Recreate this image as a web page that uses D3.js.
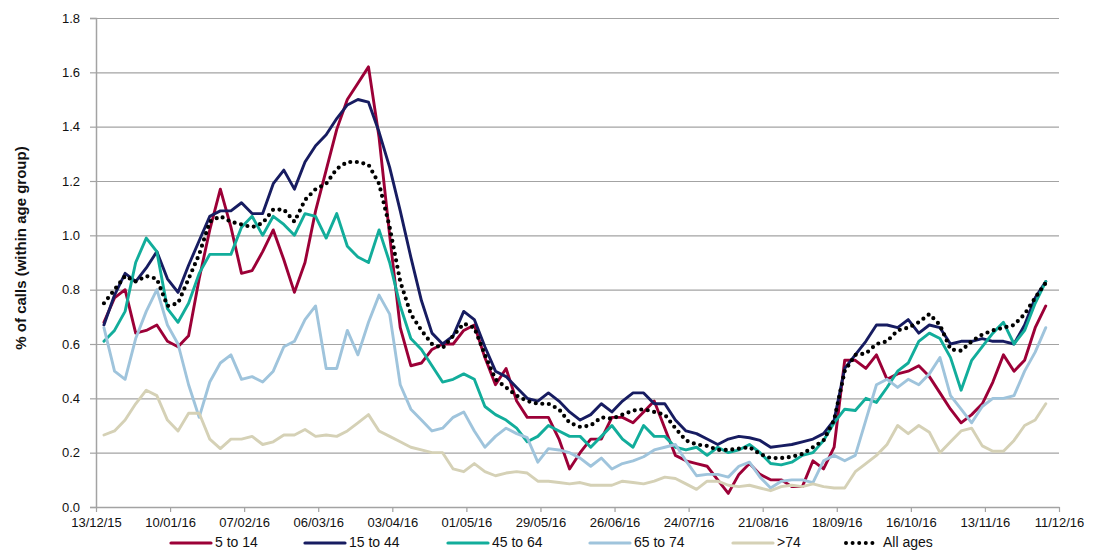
<!DOCTYPE html>
<html>
<head>
<meta charset="utf-8">
<script src="https://cdn.jsdelivr.net/npm/d3@7/dist/d3.min.js"></script>
<style>
  body { margin: 0; background: #fff; }
  svg { font-family: "Liberation Sans", Arial, sans-serif; }
</style>
</head>
<body>
<div id="chart"></div>
<script>
// readings are taken every 4 days, starting 16/12/15
const firstReading = "16/12/15";
const readingStep = 4;

const tickLabels = ["13/12/15", "10/01/16", "07/02/16", "06/03/16", "03/04/16", "01/05/16", "29/05/16",
    "26/06/16", "24/07/16", "21/08/16", "18/09/16", "16/10/16", "13/11/16", "11/12/16"];

const seriesNames = ["5 to 14", "15 to 44", "45 to 64", "65 to 74", ">74", "All ages"];
const seriesColors = ["#9c0037", "#171c61", "#12ad9b", "#9fc4dc", "#d5d1b6", "#000000"];

const age5to14 = [0.68, 0.77, 0.80, 0.64, 0.65, 0.67, 0.61, 0.59, 0.63, 0.84,
    1.02, 1.17, 1.03, 0.86, 0.87, 0.94, 1.02, 0.91, 0.79, 0.90,
    1.09, 1.24, 1.39, 1.50, 1.56, 1.62, 1.36, 1.00, 0.66, 0.52,
    0.53, 0.58, 0.60, 0.60, 0.65, 0.67, 0.55, 0.45, 0.51, 0.39,
    0.33, 0.33, 0.33, 0.25, 0.14, 0.20, 0.25, 0.25, 0.33, 0.33,
    0.31, 0.35, 0.39, 0.29, 0.19, 0.17, 0.16, 0.15, 0.10, 0.05,
    0.12, 0.16, 0.12, 0.10, 0.10, 0.075, 0.075, 0.17, 0.14, 0.22,
    0.54, 0.54, 0.51, 0.56, 0.47, 0.49, 0.50, 0.52, 0.48, 0.42,
    0.36, 0.31, 0.34, 0.38, 0.46, 0.56, 0.50, 0.54, 0.66, 0.74];

const age15to44 = [0.67, 0.78, 0.86, 0.83, 0.88, 0.94, 0.84, 0.79, 0.89, 0.98,
    1.07, 1.09, 1.09, 1.12, 1.08, 1.08, 1.19, 1.24, 1.17, 1.27,
    1.33, 1.37, 1.43, 1.48, 1.50, 1.49, 1.38, 1.25, 1.09, 0.92,
    0.76, 0.64, 0.60, 0.63, 0.72, 0.69, 0.59, 0.50, 0.48, 0.44,
    0.40, 0.39, 0.42, 0.39, 0.35, 0.32, 0.34, 0.38, 0.35, 0.39,
    0.42, 0.42, 0.38, 0.38, 0.32, 0.28, 0.27, 0.25, 0.23, 0.25,
    0.26, 0.255, 0.245, 0.22, 0.225, 0.23, 0.24, 0.25, 0.27, 0.32,
    0.51, 0.56, 0.61, 0.67, 0.67, 0.66, 0.69, 0.64, 0.67, 0.66,
    0.60, 0.61, 0.61, 0.62, 0.61, 0.61, 0.60, 0.67, 0.77, 0.83];

const age45to64 = [0.61, 0.65, 0.72, 0.90, 0.99, 0.94, 0.73, 0.68, 0.75, 0.86,
    0.93, 0.93, 0.93, 1.03, 1.07, 1.00, 1.07, 1.04, 1.00, 1.08,
    1.07, 0.99, 1.08, 0.96, 0.92, 0.90, 1.02, 0.90, 0.74, 0.62,
    0.58, 0.52, 0.46, 0.47, 0.49, 0.47, 0.37, 0.34, 0.32, 0.29,
    0.24, 0.26, 0.30, 0.28, 0.26, 0.26, 0.22, 0.26, 0.30, 0.25,
    0.22, 0.30, 0.26, 0.26, 0.22, 0.21, 0.22, 0.19, 0.22, 0.20,
    0.21, 0.23, 0.20, 0.16, 0.155, 0.165, 0.19, 0.20, 0.245, 0.31,
    0.36, 0.355, 0.40, 0.385, 0.44, 0.50, 0.53, 0.61, 0.64, 0.62,
    0.55, 0.43, 0.54, 0.59, 0.64, 0.68, 0.60, 0.65, 0.75, 0.83];

const age65to74 = [0.66, 0.50, 0.47, 0.62, 0.72, 0.80, 0.67, 0.60, 0.45, 0.33,
    0.46, 0.53, 0.56, 0.47, 0.48, 0.46, 0.50, 0.59, 0.61, 0.69,
    0.74, 0.51, 0.51, 0.65, 0.56, 0.68, 0.78, 0.71, 0.45, 0.36,
    0.32, 0.28, 0.29, 0.33, 0.35, 0.28, 0.22, 0.26, 0.29, 0.27,
    0.255, 0.165, 0.215, 0.21, 0.20, 0.18, 0.15, 0.18, 0.14, 0.16,
    0.17, 0.185, 0.21, 0.22, 0.23, 0.17, 0.115, 0.12, 0.12, 0.11,
    0.15, 0.165, 0.11, 0.07, 0.095, 0.10, 0.10, 0.09, 0.17, 0.19,
    0.17, 0.19, 0.32, 0.45, 0.47, 0.44, 0.47, 0.45, 0.49, 0.55,
    0.41, 0.36, 0.31, 0.37, 0.40, 0.40, 0.41, 0.50, 0.57, 0.66];

const age75plus = [0.265, 0.28, 0.32, 0.38, 0.43, 0.41, 0.32, 0.28, 0.345, 0.345,
    0.25, 0.215, 0.25, 0.25, 0.26, 0.23, 0.24, 0.265, 0.265, 0.285,
    0.26, 0.265, 0.26, 0.28, 0.31, 0.34, 0.28, 0.26, 0.24, 0.22,
    0.21, 0.20, 0.20, 0.14, 0.13, 0.16, 0.13, 0.115, 0.125, 0.13,
    0.125, 0.095, 0.095, 0.09, 0.085, 0.09, 0.08, 0.08, 0.08, 0.095,
    0.09, 0.085, 0.095, 0.11, 0.105, 0.085, 0.065, 0.095, 0.095, 0.08,
    0.075, 0.08, 0.07, 0.06, 0.075, 0.08, 0.075, 0.085, 0.075, 0.07,
    0.07, 0.13, 0.16, 0.19, 0.23, 0.30, 0.27, 0.30, 0.275, 0.20,
    0.24, 0.28, 0.29, 0.225, 0.205, 0.205, 0.245, 0.30, 0.32, 0.38];

const allAges = [0.75, 0.80, 0.85, 0.83, 0.85, 0.84, 0.74, 0.75, 0.84, 0.93,
    1.05, 1.07, 1.05, 1.04, 1.03, 1.045, 1.095, 1.095, 1.05, 1.13,
    1.17, 1.19, 1.245, 1.27, 1.27, 1.26, 1.19, 1.03, 0.83, 0.71,
    0.65, 0.60, 0.585, 0.63, 0.675, 0.66, 0.56, 0.47, 0.44, 0.41,
    0.39, 0.38, 0.38, 0.36, 0.31, 0.295, 0.30, 0.33, 0.325, 0.34,
    0.355, 0.36, 0.35, 0.34, 0.29, 0.245, 0.23, 0.225, 0.21, 0.21,
    0.215, 0.22, 0.195, 0.18, 0.18, 0.185, 0.195, 0.22, 0.245, 0.32,
    0.50, 0.56, 0.565, 0.60, 0.61, 0.65, 0.66, 0.68, 0.71, 0.67,
    0.58, 0.575, 0.61, 0.635, 0.65, 0.66, 0.67, 0.71, 0.77, 0.825];

const seriesValues = [age5to14, age15to44, age45to64, age65to74, age75plus, allAges];

// layout
const width = 1102, height = 551;
const margin = ({top: 18, right: 43, bottom: 44, left: 96});
const innerW = width - margin.left - margin.right,
    innerH = height - margin.top - margin.bottom;

const parseDate = d3.utcParse("%d/%m/%y");
const start = parseDate(firstReading);

const svg = d3.select("#chart").append("svg")
    .attr("width", width)
    .attr("height", height);

const g = svg.append("g")
    .attr("transform", "translate(" + margin.left + "," + margin.top + ")");

const ticks = tickLabels.map(parseDate);

const xScale = d3.scaleUtc()
    .domain([ticks[0], ticks[ticks.length - 1]])
    .range([0, innerW]);

const yScale = d3.scaleLinear()
    .domain([0, 1.8])
    .range([innerH, 0]);

// gridlines
g.append("g")
    .attr("class", "grid")
    .call(d3.axisLeft(yScale).tickValues(d3.range(1, 10).map(d => d * 0.2)).tickSize(-innerW).tickFormat(""))
    .call(s => s.select(".domain").remove())
    .call(s => s.selectAll("line").attr("stroke", "#a3a3a3").attr("stroke-width", 1.2));

const yAxis = d3.axisLeft(yScale)
    .tickValues(d3.range(0, 10).map(d => d * 0.2))
    .tickFormat(d3.format(".1f"))
    .tickSize(6)
    .tickPadding(10);

g.append("g")
    .attr("class", "axis y-axis")
    .call(yAxis)
    .call(s => s.select(".domain").attr("stroke", "#a3a3a3").attr("stroke-width", 1.5))
    .call(s => s.selectAll(".tick line").attr("stroke", "#a3a3a3").attr("stroke-width", 1.2))
    .call(s => s.selectAll("text").attr("font-size", 13).attr("fill", "#111")
        .style("font-family", "'Liberation Sans', Arial, sans-serif"));

const xAxis = d3.axisBottom(xScale)
    .tickValues(ticks)
    .tickFormat(d3.utcFormat("%d/%m/%y"))
    .tickSize(5)
    .tickSizeOuter(0)
    .tickPadding(6);

g.append("g")
    .attr("class", "axis x-axis")
    .attr("transform", `translate(0, ${innerH})`)
    .call(xAxis)
    .call(s => s.select(".domain").attr("stroke", "#a3a3a3").attr("stroke-width", 1.5))
    .call(s => s.selectAll(".tick line").attr("stroke", "#a3a3a3").attr("stroke-width", 1.2))
    .call(s => s.selectAll("text").attr("font-size", 13).attr("fill", "#111")
        .style("font-family", "'Liberation Sans', Arial, sans-serif"));

// y title
svg.append("text")
    .attr("transform", "translate(20, 248) rotate(-90)")
    .attr("text-anchor", "middle")
    .attr("dominant-baseline", "central")
    .attr("font-size", 15)
    .attr("font-weight", "bold")
    .attr("fill", "#111")
    .text("% of calls (within age group)");

// series
const line = d3.line()
    .x((d, i) => xScale(d3.utcDay.offset(start, i * readingStep)))
    .y(d => yScale(d));

seriesValues.forEach((vals, k) => {
    const dotted = k === seriesValues.length - 1;
    g.append("path")
        .datum(vals)
        .attr("fill", "none")
        .attr("stroke", seriesColors[k])
        .attr("stroke-width", dotted ? 4.2 : 2.9)
        .attr("stroke-linejoin", "round")
        .attr("stroke-linecap", "round")
        .attr("stroke-dasharray", dotted ? "0 6.6" : null)
        .attr("d", line);
});

// legend
const legendX = [171, 305, 448, 590, 733, 846];
const legendY = 543;
const legend = svg.append("g").attr("class", "legend");

seriesNames.forEach((name, k) => {
    const dotted = k === seriesNames.length - 1;
    const len = dotted ? 30 : 40;
    legend.append("line")
        .attr("x1", legendX[k]).attr("x2", legendX[k] + len)
        .attr("y1", legendY).attr("y2", legendY)
        .attr("stroke", seriesColors[k])
        .attr("stroke-width", dotted ? 4 : 3.2)
        .attr("stroke-linecap", "round")
        .attr("stroke-dasharray", dotted ? "0 6.6" : null);
    legend.append("text")
        .attr("x", legendX[k] + len + (dotted ? 7 : 4))
        .attr("y", legendY + 4)
        .attr("font-size", 14)
        .attr("fill", "#111")
        .text(name);
});
</script>
</body>
</html>
